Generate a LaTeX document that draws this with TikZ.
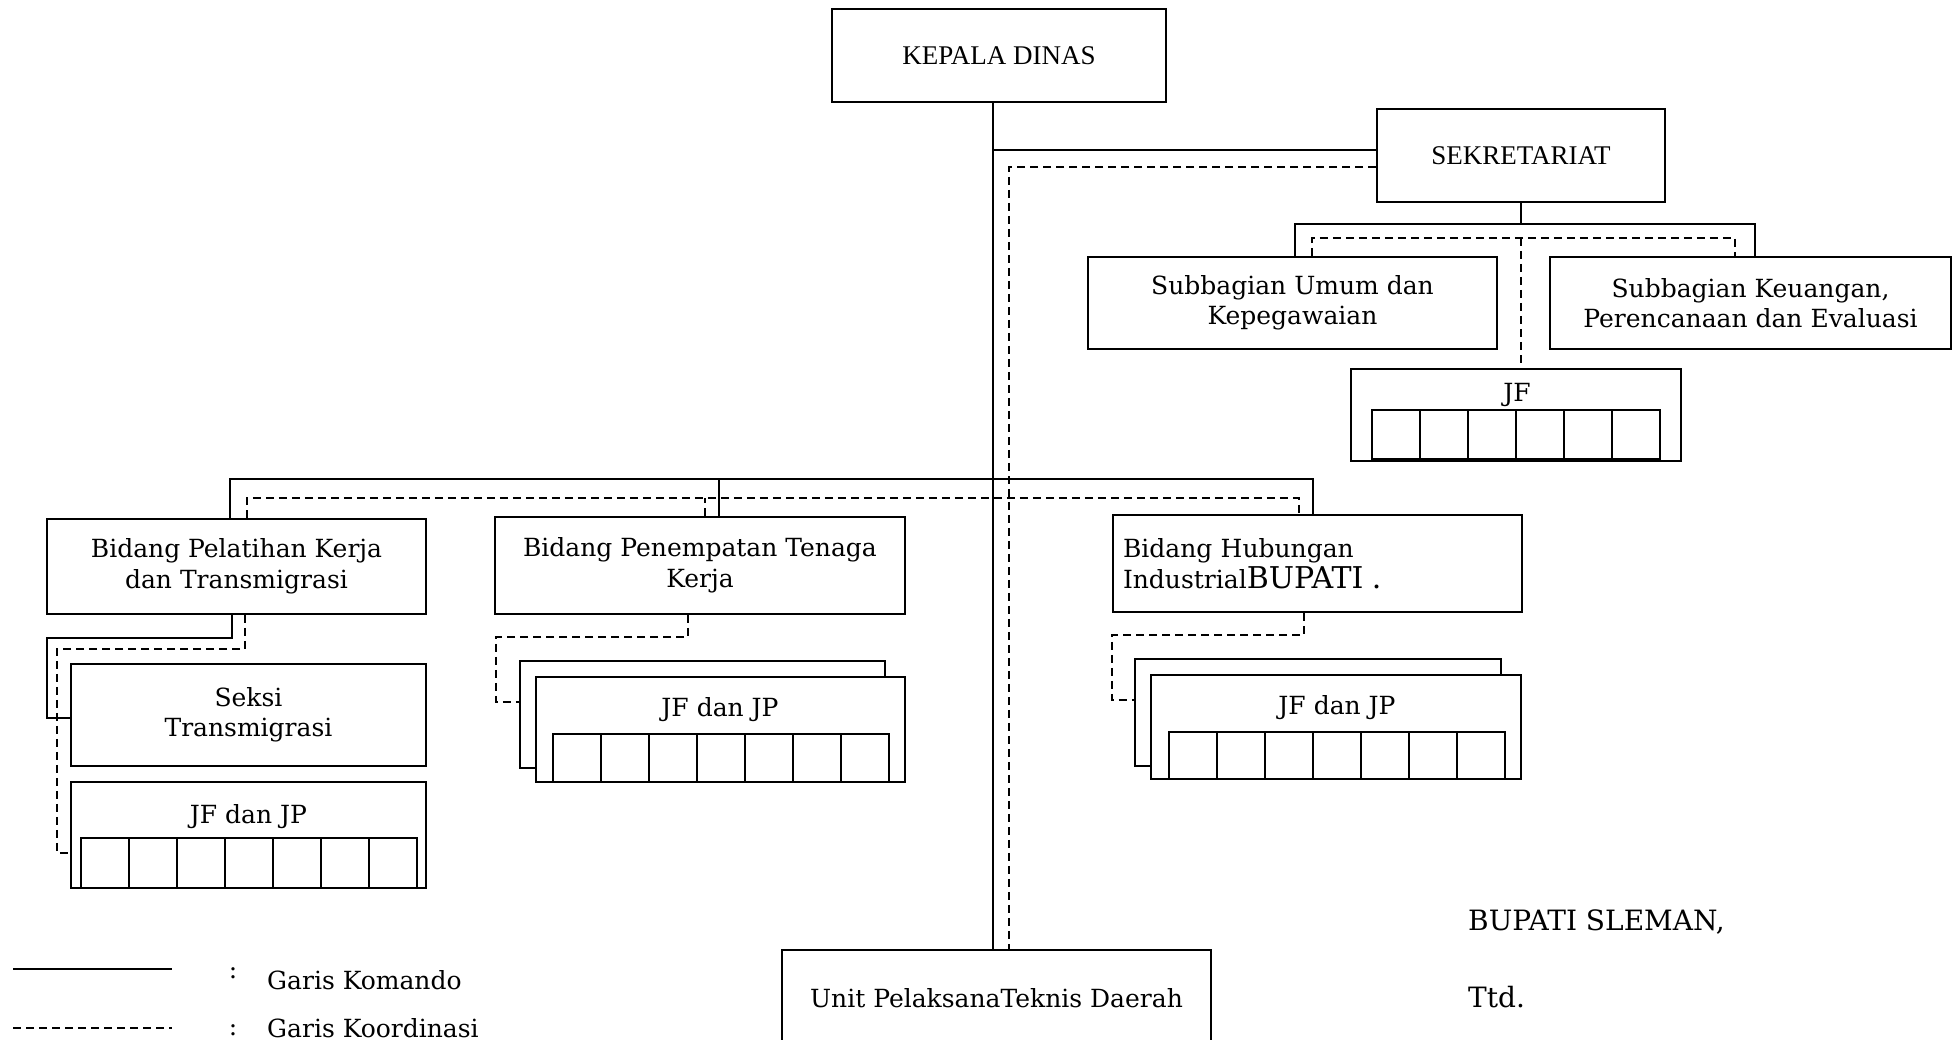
\documentclass[tikz,border=0pt]{standalone}
\usepackage{fontspec}
\setmainfont{DejaVu Serif}
\newfontfamily\timesfont{Liberation Serif}
\usetikzlibrary{positioning}

\begin{document}
\begin{tikzpicture}[x=1pt,y=-1pt,
            jabatan/.style={draw,line width=1.6pt,inner sep=0pt,align=center,fill=white},
            komando/.style={line width=1.6pt},
            koordinasi/.style={line width=1.6pt,dash pattern=on 8pt off 5pt},
            isi/.style={font=\fontsize{25}{30.5}\selectfont},
            judul/.style={font=\timesfont\fontsize{27}{30}\selectfont}]
            \useasboundingbox (0,0) rectangle (1953,1040);
            \clip (0,0) rectangle (1953,1040);

            % pimpinan dan sekretariat
            \node[jabatan,judul,minimum width=334pt,minimum height=93pt] (kepala) at (999,55.5) {KEPALA DINAS};
            \node[jabatan,judul,minimum width=288pt,minimum height=93pt] (sekre) at (1521,155.5) {SEKRETARIAT};
            \node[jabatan,isi,minimum width=409pt,minimum height=92pt] (subumum) at (1292.5,303) {Subbagian Umum dan\\Kepegawaian};
            \node[jabatan,isi,minimum width=401pt,minimum height=92pt] (subkeu) at (1750.5,303) {Subbagian Keuangan,\\Perencanaan dan Evaluasi};
            \node[jabatan,minimum width=330pt,minimum height=92pt] (jfsek) at (1516,415) {};
            \node[isi] (jfsekt) at (1517,395) {JF};
            \foreach \i in {0,...,5}
                \draw[komando] ({1372+\i*48},410) rectangle ++(48,49);

            % bidang
            \node[jabatan,isi,minimum width=379pt,minimum height=95pt] (bidlatih) at (236.5,566.5) {Bidang Pelatihan Kerja\\dan Transmigrasi};
            \node[jabatan,isi,minimum width=410pt,minimum height=97pt] (bidtemp) at (700,565.5) {Bidang Penempatan Tenaga\\Kerja};
            \node[jabatan,isi,minimum width=409pt,minimum height=97pt,text width=389pt,align=left,inner xsep=10pt] (bidhub) at (1317.5,563.5)
                {Bidang Hubungan\\Industrial{\fontsize{30}{30.5}\selectfont BUPATI .}};

            % seksi dan jabatan fungsional
            \node[jabatan,isi,minimum width=355pt,minimum height=102pt] (seksi) at (248.5,715) {Seksi\\Transmigrasi};
            \node[jabatan,minimum width=355pt,minimum height=106pt] (jflatih) at (248.5,835) {};
            \node[isi] (jflatiht) at (248.5,817) {JF dan JP};
            \foreach \i in {0,...,6}
                \draw[komando] ({81+\i*48},838) rectangle ++(48,50);

            \node[jabatan,minimum width=365pt,minimum height=107pt] (jftempb) at (702.5,714.5) {};
            \node[jabatan,minimum width=369pt,minimum height=105pt] (jftemp) at (720.5,729.5) {};
            \node[isi] (jftempt) at (720,710) {JF dan JP};
            \foreach \i in {0,...,6}
                \draw[komando] ({553+\i*48},734) rectangle ++(48,48);

            \node[jabatan,minimum width=366pt,minimum height=107pt] (jfhubb) at (1318,712.5) {};
            \node[jabatan,minimum width=370pt,minimum height=104pt] (jfhub) at (1336,727) {};
            \node[isi] (jfhubt) at (1337,708) {JF dan JP};
            \foreach \i in {0,...,6}
                \draw[komando] ({1169+\i*48},732) rectangle ++(48,47);

            % UPTD
            \node[jabatan,isi,minimum width=429pt,minimum height=96pt,anchor=north] (upt) at (996.5,949) {Unit PelaksanaTeknis Daerah};

            % garis komando
            \draw[komando] ([xshift=-6pt]kepala.south) -- ([xshift=-6pt]kepala.south |- upt.north);
            \coordinate (jsek) at (993,150);
            \draw[komando] (jsek) -- (jsek -| sekre.west);
            \coordinate (sb) at (1521,224);
            \draw[komando] (sekre.south) -- (sb);
            \draw[komando] ([xshift=2.5pt]subumum.north) |- (sb) -| ([xshift=4.5pt]subkeu.north);
            \coordinate (bb) at (993,479);
            \draw[komando] ([xshift=-6.5pt]bidlatih.north) |- (bb) -| ([xshift=-4.5pt]bidhub.north);
            \draw[komando] ([xshift=19pt]bidtemp.north) -- ([xshift=19pt]bidtemp.north |- bb);
            \coordinate (lk) at (47,638);
            \draw[komando] ([xshift=-4.5pt]bidlatih.south) |- (lk) |- ([yshift=-3pt]seksi.west);

            % garis koordinasi
            \coordinate (jsekd) at (1009,167);
            \draw[koordinasi] (jsekd -| sekre.west) -- (jsekd) -- (jsekd |- upt.north);
            \coordinate (sd) at (1521,238);
            \draw[koordinasi] ([xshift=19.5pt]subumum.north) |- (sd) -| ([xshift=-15.5pt]subkeu.north);
            \draw[koordinasi] (sd) -- (sd |- jfsek.north);
            \coordinate (bd) at (1009,498);
            \draw[koordinasi] ([xshift=10.5pt]bidlatih.north) |- (bd) -| ([xshift=-18.5pt]bidhub.north);
            \draw[koordinasi] ([xshift=5pt]bidtemp.north) -- ([xshift=5pt]bidtemp.north |- bd);
            \coordinate (ld) at (57,649);
            \draw[koordinasi] ([xshift=8.5pt]bidlatih.south) |- (ld) |- ([yshift=-18pt]jflatih.west);
            \coordinate (td) at (496,637);
            \draw[koordinasi] ([xshift=-12pt]bidtemp.south) |- (td) |- ([yshift=12.5pt]jftempb.west);
            \coordinate (hd) at (1112,635);
            \draw[koordinasi] ([xshift=-13.5pt]bidhub.south) |- (hd) |- ([yshift=12.5pt]jfhubb.west);

            % keterangan
            \draw[komando] (13,969) -- (172,969);
            \draw[koordinasi] (13,1028) -- (172,1028);
            \node[isi,anchor=center] (kol1) at (233,973) {:};
            \node[isi,anchor=center] (kol2) at (233,1030) {:};
            \node[isi,anchor=west,inner sep=0pt] (ket1) at (267,980) {Garis Komando};
            \node[isi,anchor=west,inner sep=0pt] (ket2) at (267,1028) {Garis Koordinasi};

            % pengesahan
            \node[anchor=west,inner sep=0pt,font=\fontsize{28}{30}\selectfont] (bupati) at (1468,922) {BUPATI SLEMAN,};
            \node[anchor=west,inner sep=0pt,font=\fontsize{28}{30}\selectfont] (ttd) at (1468,997) {Ttd.};
        \end{tikzpicture}
\end{document}
